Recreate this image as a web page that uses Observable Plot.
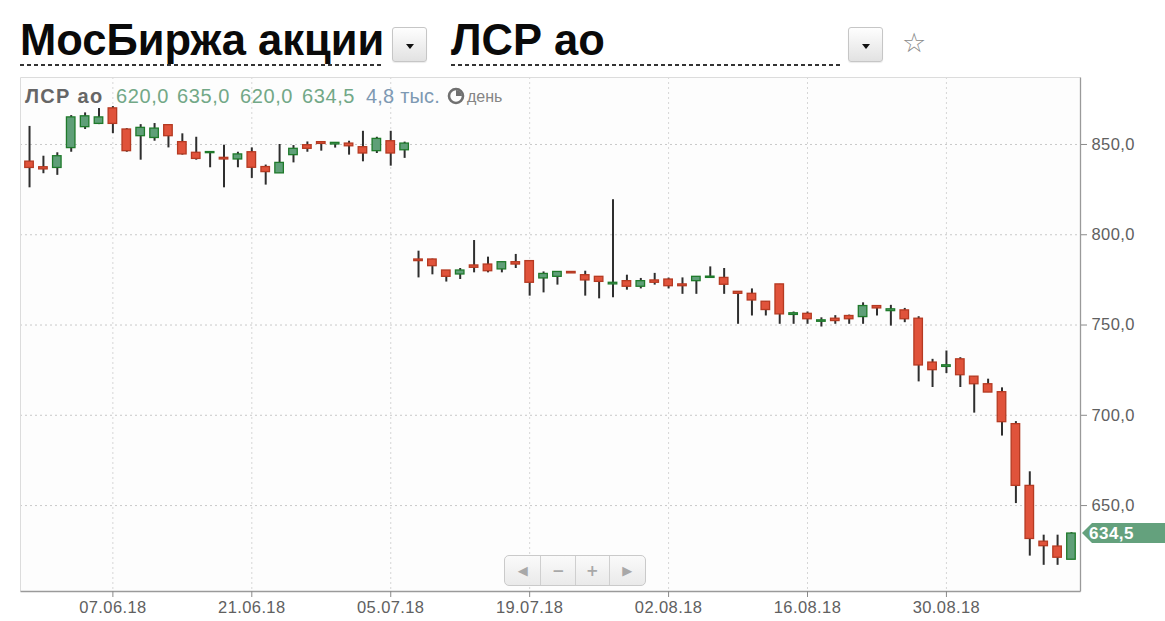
<!DOCTYPE html>
<html>
<head>
<meta charset="utf-8">
<script src="https://cdn.jsdelivr.net/npm/d3@7"></script>
<script src="https://cdn.jsdelivr.net/npm/@observablehq/plot@0.6"></script>
<style>
  html, body { margin: 0; padding: 0; background: #fff; }
  #wrap { position: relative; width: 1165px; height: 621px; overflow: hidden; font-family: "Liberation Sans", Arial, sans-serif; }
  #hdr { position: relative; width: 1165px; height: 70px; }
  .ttl { position: absolute; top: 18px; font-weight: bold; font-size: 43.5px; line-height: 44px; color: #0a0a0a; white-space: nowrap; }
  .dash { position: absolute; top: 64px; height: 2px;
    background-image: repeating-linear-gradient(to right, #333 0 4px, transparent 4px 7px); }
  .btn { position: absolute; top: 27px; width: 33px; height: 33px; border: 1px solid #c6c6c6; border-radius: 3px;
    background: linear-gradient(#fefefe, #e2e2e2); box-shadow: 0 1px 1px rgba(0,0,0,0.08); }
  .btn::after { content: ""; position: absolute; left: 13px; top: 16px; border-left: 4px solid transparent;
    border-right: 4px solid transparent; border-top: 5px solid #111; }
  .star { position: absolute; left: 902px; top: 27px; font-family: "DejaVu Sans"; font-size: 27px; line-height: 32px; color: #8a8a8a; }
  #chart svg { display: block; }
  #chart svg g[aria-label$="axis tick label"] text { letter-spacing: 0.4px; }
  #nav { position: absolute; left: 504px; top: 555px; width: 140px; height: 29px; border: 1px solid #cacaca; border-radius: 5px;
    background: linear-gradient(rgba(250,250,250,0.92), rgba(232,232,232,0.92)); display: flex; }
  #nav div { height: 29px; display: flex; align-items: center; justify-content: center; color: #a8a8a8;
    font-family: "DejaVu Sans"; font-size: 15px; font-weight: bold; }
  #nav div + div { border-left: 1px solid #cfcfcf; }
</style>
</head>
<body>
<div id="wrap">
  <div id="hdr">
    <div class="ttl" id="t1" style="left:20px">МосБиржа акции</div>
    <div class="dash" style="left:20px;width:363px"></div>
    <div class="btn" style="left:392px"></div>
    <div class="ttl" id="t2" style="left:451px">ЛСР ао</div>
    <div class="dash" style="left:451px;width:390px"></div>
    <div class="btn" style="left:848px"></div>
    <div class="star">☆</div>
  </div>
  <div id="chart"></div>
  <div id="nav">
    <div style="width:36px;font-size:13px">◀</div>
    <div style="width:34px">−</div>
    <div style="width:33px">+</div>
    <div style="width:36px;font-size:13px">▶</div>
  </div>
</div>
<script>
// ---- data ----
const ticker = "ЛСР ао";
const volumeLabel = "4,8 тыс.";
const periodLabel = "день";

const dates = ["30.05.18","31.05.18","01.06.18","04.06.18","05.06.18","06.06.18","07.06.18","08.06.18","11.06.18","12.06.18",
"13.06.18","14.06.18","15.06.18","18.06.18","19.06.18","20.06.18","21.06.18","22.06.18","25.06.18","26.06.18",
"27.06.18","28.06.18","29.06.18","02.07.18","03.07.18","04.07.18","05.07.18","06.07.18","09.07.18","10.07.18",
"11.07.18","12.07.18","13.07.18","16.07.18","17.07.18","18.07.18","19.07.18","20.07.18","23.07.18","24.07.18",
"25.07.18","26.07.18","27.07.18","30.07.18","31.07.18","01.08.18","02.08.18","03.08.18","06.08.18","07.08.18",
"08.08.18","09.08.18","10.08.18","13.08.18","14.08.18","15.08.18","16.08.18","17.08.18","20.08.18","21.08.18",
"22.08.18","23.08.18","24.08.18","27.08.18","28.08.18","29.08.18","30.08.18","31.08.18","03.09.18","04.09.18",
"05.09.18","06.09.18","07.09.18","10.09.18","11.09.18","12.09.18"];

const open = [840.5,837.4,837,848,859.6,861.4,870,858.3,854.6,853.6,860.7,851.3,845.4,845.2,842.6,841.7,845.7,837.5,834,844.1,
849.6,851.3,850,850.5,848.5,846.3,851.8,846.8,786.3,786.3,780.2,778,783,783.5,780.8,784.8,785.4,775.8,776.7,779.4,
777.6,776.7,772.5,774.3,771.2,774.7,775.2,772.5,774.3,776.1,776.1,768.4,767.3,762.9,772.5,755.6,756.2,751.8,753.5,755,
754.4,760.5,757.7,758.1,753.5,729.2,726.8,731,721.4,717.2,712.8,695.1,660.9,630,627.3,620];

const high = [860,843.5,845.4,866,867.5,869.9,871,858.8,861,861.6,860.7,855.9,854,846,849.6,845.7,848.1,838.6,850,849.4,
851.4,851.3,851,851.8,857.3,854,857.3,851.3,790.9,786.5,780.2,781.3,796.8,787.6,784.8,789.1,785.4,779.4,779.4,779.4,
779.8,776.7,819.4,777.6,775.8,778.6,776,776.1,776.7,782.2,781.3,768.4,770,762.9,772.5,757.2,757.2,754,755.2,755.5,
762.3,760.5,760.9,759.2,754.6,731,735.6,731.9,721.4,720,715.2,696.5,668.7,633.6,633.6,635];

const low = [826,833.8,832.9,845.7,858.3,861,856,845.7,841.3,851.8,848.1,844.1,841.3,837.1,826,837.1,831.2,827.5,834,839.8,
845.7,846.3,848,844.1,840.4,845,838,842.3,776.1,777.8,773.8,775.2,778.9,778.9,778.9,781.3,766,767.8,772.1,778.6,
766,764.5,765.1,769.3,770,772.1,770,767,767,776.1,767,750.4,755,755,750.4,750.4,750.4,748.9,750.4,750.4,
750.4,755,749.4,751.3,718.5,715.4,723.1,715.4,701.2,712.6,688.5,651.1,622,616.9,616.9,620];

const close = [837,836.2,843.5,865,865.6,865,861.4,846.3,859.2,858.8,854.6,844.5,842,845.8,841.7,844.5,837.1,834.7,839.8,847.6,
847.6,850.3,850.9,849,845,853.1,845,850.5,785.4,782.6,776.7,780.2,781.7,779.8,784.8,783.5,773.4,778.3,779.4,778.6,
774.7,773.9,773.4,771.2,774.3,773.4,771.5,771.5,776.7,776.8,772.3,767.3,763.6,758.3,755.9,756.5,753.2,752.6,752.2,753.2,
760.5,759.2,758.7,753.2,727.6,725,727.7,722.2,717.2,712.6,696.2,660.9,631.5,627.5,621.1,634.5];

const xTicks = ["07.06.18","21.06.18","05.07.18","19.07.18","02.08.18","16.08.18","30.08.18"];
const yTicks = [650, 700, 750, 800, 850];

// ---- build ----
const FONT = "Liberation Sans, Arial, sans-serif";
const UP_FILL = "#5f9f78", UP_STROKE = "#1f7a2b", DN_FILL = "#e0533b", DN_STROKE = "#b53a22";
const candles = dates.map((d, i) => ({date: d, open: open[i], high: high[i], low: low[i], close: close[i]}));
const fmt = v => v.toFixed(1).replace(".", ",");
const last = candles[candles.length - 1];

const borders = (index, scales, values, dim) => {
  const {width, height, marginLeft: l, marginRight: r, marginTop: t, marginBottom: b} = dim;
  const g = d3.create("svg:g");
  const L = l + 0.5, R = width - r + 0.5, T = t + 0.5, B = height - b + 0.5;
  g.append("line").attr("x1", L).attr("x2", R).attr("y1", T).attr("y2", T).attr("stroke", "#dcdcdc");
  g.append("line").attr("x1", L).attr("x2", L).attr("y1", T).attr("y2", B).attr("stroke", "#dcdcdc");
  g.append("line").attr("x1", R).attr("x2", R).attr("y1", T).attr("y2", B).attr("stroke", "#9a9a9a").attr("stroke-width", 1.3);
  g.append("line").attr("x1", L).attr("x2", R).attr("y1", B).attr("y2", B).attr("stroke", "#9a9a9a").attr("stroke-width", 1.3);
  return g.node();
};

// legend item offsets from the plot's left edge (layout only)
const legendOffsets = [5, 96, 157, 220, 282, 346];
const legend = (index, scales, values, dim) => {
  const g = d3.create("svg:g").attr("font-family", FONT).attr("text-anchor", "start");
  const l = dim.marginLeft, yb = dim.marginTop + 26;
  const items = [
    {text: ticker, fill: "#666", bold: true, ls: "1.3px"},
    ...[last.open, last.high, last.low, last.close].map(v => ({text: fmt(v), fill: "#72a887", ls: "0.6px"})),
    {text: volumeLabel, fill: "#7d99b3", ls: "0.2px"}
  ];
  items.forEach((it, k) => {
    g.append("text").attr("x", l + legendOffsets[k]).attr("y", yb).attr("font-size", 20)
      .attr("font-weight", it.bold ? "bold" : null).attr("fill", it.fill).attr("letter-spacing", it.ls)
      .attr("text-anchor", "start").text(it.text);
  });
  const cx = l + 436, cy = yb - 7;
  g.append("circle").attr("cx", cx).attr("cy", cy).attr("r", 7).attr("fill", "none").attr("stroke", "#707070").attr("stroke-width", 2.6);
  g.append("path").attr("d", `M${cx},${cy}V${cy - 6}A6,6 0 0 1 ${cx + 6},${cy}Z`).attr("fill", "#707070");
  g.append("text").attr("x", cx + 11).attr("y", yb - 1).attr("font-size", 16).attr("fill", "#858585")
    .attr("text-anchor", "start").text(periodLabel);
  return g.node();
};

const priceTag = (index, scales, values, dim) => {
  const {width, marginRight} = dim;
  const yy = scales.y(last.close);
  const x0 = width - marginRight + 2;
  const g = d3.create("svg:g");
  g.append("polygon")
    .attr("points", [[x0, yy], [x0 + 10, yy - 10], [width, yy - 10], [width, yy + 10], [x0 + 10, yy + 10]].map(p => p.join(",")).join(" "))
    .attr("fill", "#64a17d");
  g.append("text").attr("x", x0 + 7).attr("y", yy + 6).attr("font-family", FONT).attr("font-size", 17)
    .attr("font-weight", "bold").attr("fill", "#fff").attr("letter-spacing", "0.5px").attr("text-anchor", "start").text(fmt(last.close));
  return g.node();
};

const chart = Plot.plot({
  width: 1165,
  height: 551,
  marginTop: 7,
  marginBottom: 30,
  marginLeft: 20,
  marginRight: 85,
  x: {type: "band", domain: dates, padding: 0.3, axis: null},
  y: {domain: [602.4, 887.1], axis: null},
  style: {fontFamily: FONT, fontSize: "16px", color: "#666", background: "transparent", overflow: "visible"},
  marks: [
    Plot.frame({fill: "#fdfdfd", stroke: null}),
    Plot.gridY({ticks: yTicks, stroke: "#c9c9c9", strokeOpacity: 1, strokeDasharray: "2,3"}),
    Plot.gridX({ticks: xTicks, stroke: "#d6d6d6", strokeOpacity: 1, strokeDasharray: "2,3"}),
    borders,
    Plot.ruleX(candles, {x: "date", y1: "low", y2: "high", stroke: "#2e2e2e", strokeWidth: 2}),
    Plot.barY(candles, {
      x: "date", y1: "open", y2: "close",
      fill: d => d.close >= d.open ? UP_FILL : DN_FILL,
      stroke: d => d.close >= d.open ? UP_STROKE : DN_STROKE,
      strokeWidth: 1.3, insetLeft: 0.6, insetRight: 0.6
    }),
    Plot.axisX({ticks: xTicks, tickSize: 6, tickPadding: 4, stroke: "#8a8a8a", fill: "#606060", fontSize: 16.5, label: null}),
    Plot.axisY({anchor: "right", ticks: yTicks, tickSize: 6, tickPadding: 5, stroke: "#8a8a8a", fill: "#606060",
      fontSize: 16.5, tickFormat: fmt, label: null}),
    legend,
    priceTag
  ]
});
document.getElementById("chart").appendChild(chart);
</script>
</body>
</html>
